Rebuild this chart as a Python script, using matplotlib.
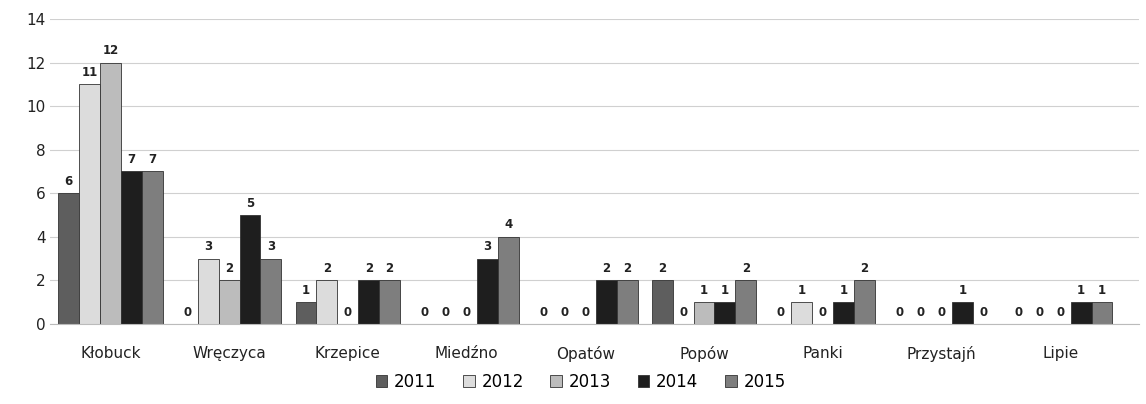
import numpy as np
import matplotlib.pyplot as plt

gminy = ["Kłobuck", "Wręczyca", "Krzepice", "Miedźno", "Opatów",
         "Popów", "Panki", "Przystajń", "Lipie"]
years = ["2011", "2012", "2013", "2014", "2015"]
v2011 = [6, 0, 1, 0, 0, 2, 0, 0, 0]
v2012 = [11, 3, 2, 0, 0, 0, 1, 0, 0]
v2013 = [12, 2, 0, 0, 0, 1, 0, 0, 0]
v2014 = [7, 5, 2, 3, 2, 1, 1, 1, 1]
v2015 = [7, 3, 2, 4, 2, 2, 2, 0, 1]
colors = ["#5e5e5e", "#dcdcdc", "#bcbcbc", "#1e1e1e", "#7e7e7e"]

series = [v2011, v2012, v2013, v2014, v2015]

fig = plt.figure(figsize=(11.46, 4.04), dpi=100)
ax = fig.add_axes([0.044, 0.198, 0.95, 0.755])

x = np.arange(len(gminy))
w = 0.176
for i, (vals, c, yr) in enumerate(zip(series, colors, years)):
    pos = x + (i - 2) * w
    ax.bar(pos, vals, w, color=c, edgecolor="#333333", linewidth=0.6, label=yr)
    for xb, v in zip(pos, vals):
        ax.text(xb, v + 0.25, str(v), ha="center", va="bottom",
                fontsize=8.5, fontweight="bold", color="#222222")

ax.set_ylim(0, 14)
ax.set_xlim(-0.505, 8.665)
ax.set_yticks(range(0, 15, 2))
ax.yaxis.grid(True, color="#d0d0d0", linewidth=0.8)
ax.set_axisbelow(True)
for s in ["top", "right", "left"]:
    ax.spines[s].set_visible(False)
ax.spines["bottom"].set_color("#bbbbbb")
ax.tick_params(axis="both", length=0, labelsize=11, colors="#222222")
ax.tick_params(axis="x", pad=16)
ax.set_xticks(x)
ax.set_xticklabels(gminy)

ax.legend(loc="center", bbox_to_anchor=(0.487, -0.19), ncol=5, frameon=False,
          fontsize=12, handlelength=0.7, handleheight=0.7, handletextpad=0.4,
          columnspacing=1.6)

fig.savefig("out.png", dpi=100)
